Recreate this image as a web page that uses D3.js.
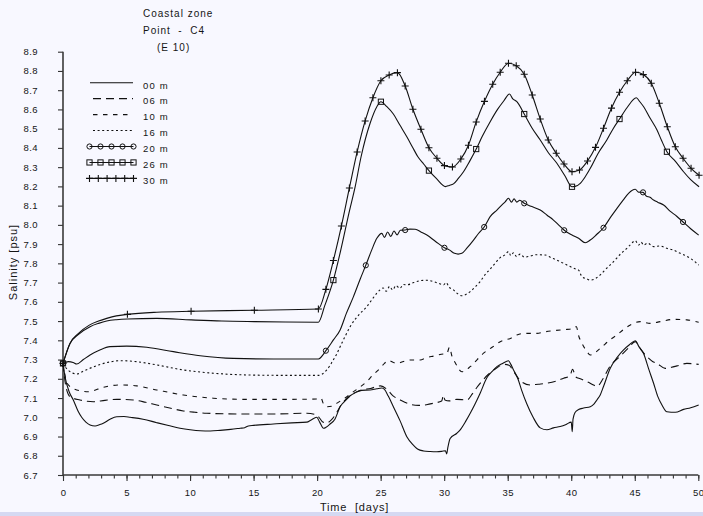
<!DOCTYPE html>
<html><head><meta charset="utf-8">
<script src="https://cdn.jsdelivr.net/npm/d3@7"></script>
<style>
html,body{margin:0;padding:0;background:#f8f8ff;}
svg{display:block;}
text{font-family:"Liberation Sans",Arial,sans-serif;fill:#151515;}
</style></head><body>
<svg id="chart" width="703" height="516"></svg>
<script>
// Salinity time series at point C4 (coastal zone), one array per depth: [day, psu]
const s00 = [[0,7.28],[0.16,7.21],[0.5,7.13],[0.81,7.09],[1.2,7.03],[1.47,7.0],[1.8,6.975],[2.13,6.96],[2.52,6.955],[2.9,6.962],[3.17,6.969],[3.7,6.99],[4.23,7.003],[4.8,7.004],[5.28,7.0],[6.3,6.99],[7.38,6.972],[8.3,6.957],[9.21,6.943],[10.0,6.935],[10.79,6.93],[11.6,6.929],[12.36,6.932],[13.2,6.937],[13.94,6.943],[14.3,6.946],[14.59,6.955],[15.0,6.958],[16.56,6.965],[18.0,6.971],[19.19,6.975],[19.5,6.985],[19.97,7.0],[20.2,6.975],[20.5,6.943],[20.7,6.948],[21.02,6.965],[21.4,6.99],[21.81,7.055],[22.2,7.085],[22.6,7.112],[23.0,7.128],[23.5,7.14],[24.17,7.142],[24.7,7.148],[25.09,7.152],[25.3,7.145],[25.6,7.11],[26.0,7.055],[26.54,6.98],[27.06,6.899],[27.58,6.855],[27.9,6.835],[28.37,6.825],[28.9,6.822],[29.43,6.821],[29.8,6.823],[30.1,6.826],[30.2,6.81],[30.28,6.84],[30.47,6.89],[31.0,6.917],[31.26,6.935],[31.7,6.98],[32.05,7.021],[32.4,7.065],[32.83,7.125],[33.36,7.205],[33.8,7.24],[34.15,7.263],[34.6,7.28],[35.06,7.294],[35.25,7.275],[35.46,7.246],[35.8,7.2],[36.1,7.14],[36.5,7.07],[37.0,7.0],[37.56,6.945],[38.09,6.935],[38.6,6.945],[39.13,6.952],[39.6,6.963],[40.0,6.975],[40.08,6.925],[40.14,6.99],[40.3,7.025],[40.58,7.04],[40.97,7.048],[41.5,7.055],[41.8,7.07],[42.02,7.09],[42.28,7.116],[42.54,7.16],[43.07,7.255],[43.6,7.31],[44.12,7.35],[44.6,7.378],[45.04,7.398],[45.3,7.37],[45.7,7.33],[46.1,7.25],[46.48,7.177],[46.8,7.11],[47.14,7.064],[47.53,7.029],[48.19,7.026],[48.84,7.041],[49.4,7.05],[50.03,7.064]];

const s06 = [[0,7.28],[0.2,7.17],[0.55,7.107],[1.34,7.09],[2.39,7.081],[3.3,7.088],[4.23,7.093],[5.54,7.09],[6.5,7.078],[7.38,7.064],[8.4,7.048],[9.47,7.033],[10.4,7.026],[11.31,7.021],[13.94,7.017],[16.56,7.017],[19.19,7.021],[19.97,7.012],[20.2,6.995],[20.45,6.975],[20.7,6.97],[21.1,6.985],[21.5,7.02],[21.9,7.065],[22.6,7.112],[23.4,7.14],[24.2,7.15],[25.0,7.163],[25.5,7.145],[26.0,7.11],[26.54,7.09],[27.2,7.07],[27.98,7.062],[28.6,7.065],[29.16,7.073],[29.8,7.085],[29.95,7.115],[30.05,7.09],[30.4,7.085],[31.0,7.093],[31.79,7.09],[32.2,7.12],[32.57,7.155],[33.0,7.19],[33.5,7.225],[34.1,7.255],[34.7,7.275],[35.1,7.27],[35.5,7.235],[36.0,7.19],[36.77,7.168],[37.4,7.172],[38.09,7.177],[38.8,7.188],[39.4,7.203],[39.9,7.215],[40.1,7.25],[40.35,7.21],[40.71,7.2],[41.24,7.185],[41.76,7.168],[42.02,7.16],[42.5,7.2],[43.0,7.26],[43.86,7.318],[44.5,7.36],[45.04,7.393],[45.5,7.35],[45.96,7.315],[46.4,7.29],[46.75,7.28],[47.4,7.254],[47.9,7.26],[48.32,7.267],[49.1,7.28],[50.03,7.275]];

const s10 = [[0,7.28],[0.15,7.22],[0.42,7.168],[1.08,7.142],[2.0,7.133],[3.17,7.156],[4.49,7.168],[5.8,7.163],[7.38,7.142],[9.47,7.116],[11.83,7.099],[14.46,7.093],[17.09,7.093],[20.1,7.095],[20.3,7.1],[20.5,7.07],[20.8,7.055],[21.2,7.058],[21.6,7.075],[22.2,7.1],[22.8,7.13],[23.25,7.151],[23.9,7.185],[24.4,7.22],[24.96,7.255],[25.3,7.28],[25.6,7.295],[26.0,7.285],[26.3,7.28],[26.8,7.29],[27.32,7.298],[28.1,7.298],[28.6,7.31],[29.16,7.318],[29.95,7.329],[30.2,7.33],[30.42,7.364],[30.6,7.32],[30.9,7.28],[31.39,7.237],[32.05,7.263],[32.6,7.3],[33.1,7.333],[33.8,7.365],[34.41,7.393],[35.2,7.41],[35.72,7.428],[36.24,7.436],[37.3,7.436],[38.0,7.445],[38.6,7.45],[39.66,7.457],[40.2,7.46],[40.4,7.471],[40.6,7.42],[40.84,7.385],[41.2,7.345],[41.5,7.324],[42.28,7.358],[43.0,7.4],[43.6,7.428],[44.1,7.455],[44.65,7.48],[45.43,7.497],[46.22,7.488],[47.0,7.497],[48.06,7.509],[49.1,7.506],[50.03,7.494]];

const s16 = [[0,7.28],[0.4,7.245],[1.08,7.225],[1.6,7.24],[2.13,7.255],[2.8,7.272],[3.44,7.284],[4.49,7.294],[5.8,7.289],[7.38,7.272],[9.47,7.246],[11.83,7.229],[14.46,7.22],[17.09,7.218],[20.1,7.218],[20.76,7.246],[21.2,7.29],[21.55,7.33],[21.81,7.367],[22.2,7.42],[22.6,7.471],[23.0,7.51],[23.39,7.54],[23.91,7.575],[24.3,7.61],[24.7,7.645],[24.96,7.662],[25.2,7.672],[25.45,7.655],[25.7,7.68],[25.95,7.662],[26.2,7.685],[26.5,7.67],[26.8,7.69],[27.06,7.688],[27.6,7.7],[28.11,7.71],[28.6,7.712],[29.16,7.705],[29.6,7.695],[29.95,7.688],[30.15,7.7],[30.4,7.675],[30.73,7.662],[31.0,7.645],[31.39,7.632],[31.7,7.638],[32.05,7.653],[32.4,7.675],[32.83,7.705],[33.2,7.74],[33.62,7.77],[34.0,7.8],[34.41,7.83],[34.8,7.845],[35.06,7.861],[35.25,7.84],[35.46,7.855],[35.7,7.835],[35.98,7.848],[36.3,7.832],[36.77,7.838],[37.3,7.845],[37.95,7.843],[38.4,7.83],[38.87,7.817],[39.4,7.8],[39.92,7.783],[40.3,7.772],[40.58,7.765],[40.84,7.731],[41.2,7.72],[41.5,7.713],[42.0,7.725],[42.28,7.74],[42.8,7.775],[43.33,7.809],[43.9,7.85],[44.38,7.878],[44.7,7.9],[45.04,7.918],[45.3,7.895],[45.5,7.91],[45.7,7.895],[46.0,7.905],[46.48,7.887],[47.0,7.89],[47.53,7.878],[48.0,7.87],[48.58,7.852],[49.0,7.84],[49.37,7.826],[49.7,7.81],[50.03,7.791]];

const s20 = [[0,7.28],[0.42,7.289],[0.8,7.285],[1.08,7.277],[1.6,7.3],[2.13,7.324],[2.9,7.35],[3.7,7.367],[5.01,7.37],[6.59,7.364],[8.69,7.341],[10.79,7.32],[13.41,7.306],[16.56,7.303],[20.1,7.303],[20.69,7.346],[21.28,7.402],[21.81,7.454],[22.3,7.54],[22.86,7.627],[23.4,7.72],[23.83,7.79],[24.3,7.87],[24.7,7.93],[25.09,7.956],[25.3,7.935],[25.55,7.963],[25.8,7.94],[26.05,7.968],[26.3,7.948],[26.55,7.972],[26.93,7.973],[27.3,7.978],[27.72,7.977],[28.2,7.962],[28.64,7.947],[29.3,7.915],[30.02,7.881],[30.4,7.87],[30.81,7.852],[31.1,7.848],[31.39,7.852],[31.8,7.88],[32.31,7.921],[32.7,7.955],[33.15,7.989],[33.62,8.043],[34.15,8.077],[34.41,8.095],[34.8,8.12],[35.06,8.138],[35.3,8.118],[35.5,8.135],[35.72,8.118],[35.95,8.128],[36.3,8.112],[36.9,8.095],[37.56,8.077],[38.1,8.05],[38.6,8.025],[39.0,8.0],[39.45,7.972],[40.06,7.947],[40.58,7.93],[41.1,7.907],[41.5,7.921],[42.0,7.95],[42.54,7.985],[43.1,8.04],[43.6,8.086],[44.1,8.13],[44.51,8.164],[45.04,8.185],[45.3,8.17],[45.65,8.169],[45.9,8.15],[46.2,8.143],[46.48,8.129],[46.8,8.118],[47.27,8.103],[47.8,8.07],[48.3,8.045],[48.8,8.015],[49.4,7.98],[50.03,7.947]];

const s26 = [[0,7.28],[0.55,7.384],[1.2,7.43],[2.13,7.471],[2.8,7.488],[3.44,7.5],[4.2,7.507],[5.07,7.511],[7.38,7.514],[10.08,7.506],[12.5,7.5],[15.06,7.497],[17.5,7.495],[20.1,7.494],[20.6,7.58],[21.28,7.713],[21.9,7.88],[22.5,8.06],[23.0,8.2],[23.46,8.354],[24.17,8.528],[24.7,8.614],[25.02,8.64],[25.49,8.614],[26.0,8.576],[26.5,8.52],[27.06,8.458],[27.5,8.405],[27.93,8.354],[28.4,8.315],[28.8,8.282],[29.4,8.24],[30.1,8.199],[30.4,8.205],[30.73,8.213],[31.1,8.24],[31.52,8.276],[32.0,8.33],[32.52,8.394],[33.0,8.46],[33.62,8.536],[34.2,8.6],[34.7,8.645],[35.14,8.68],[35.4,8.655],[35.72,8.64],[36.3,8.576],[36.9,8.505],[37.56,8.441],[38.2,8.375],[38.87,8.32],[39.5,8.255],[40.06,8.198],[40.3,8.2],[40.71,8.216],[41.1,8.25],[41.5,8.294],[42.1,8.37],[42.8,8.441],[43.3,8.5],[43.8,8.55],[44.4,8.61],[45.12,8.661],[45.4,8.64],[45.7,8.614],[46.2,8.555],[46.75,8.493],[47.1,8.44],[47.53,8.38],[48.2,8.33],[48.84,8.276],[49.4,8.235],[50.06,8.198]];

const s30 = [[0,7.28],[0.55,7.384],[1.2,7.435],[2.07,7.479],[2.8,7.5],[3.44,7.514],[4.2,7.527],[5.07,7.535],[7.38,7.546],[10.08,7.551],[15.06,7.556],[20.1,7.563],[20.69,7.665],[21.28,7.815],[21.91,7.994],[22.54,8.192],[23.15,8.379],[23.78,8.54],[24.39,8.661],[25.02,8.749],[25.67,8.779],[26.32,8.791],[26.93,8.722],[27.54,8.601],[28.17,8.497],[28.8,8.401],[29.43,8.346],[30.02,8.308],[30.65,8.301],[31.31,8.342],[31.91,8.414],[32.52,8.535],[33.17,8.642],[33.82,8.731],[34.41,8.793],[35.06,8.84],[35.67,8.827],[36.3,8.783],[36.93,8.675],[37.56,8.55],[38.19,8.441],[38.82,8.372],[39.43,8.316],[40.06,8.276],[40.65,8.285],[41.28,8.332],[41.91,8.403],[42.54,8.502],[43.17,8.607],[43.8,8.689],[44.41,8.749],[45.06,8.793],[45.67,8.781],[46.3,8.736],[46.93,8.632],[47.56,8.51],[48.19,8.406],[48.8,8.346],[49.43,8.294],[50.06,8.258]];

// Days at which symbols are plotted on the marked series
const marks20 = [0,20.69,23.83,26.93,30.02,33.15,36.3,39.45,42.54,45.65,48.8];
const marks26 = [0,21.28,25.02,28.8,32.52,36.3,40.06,43.8,47.53];
const marks30 = [0,5.07,10.08,15.06,20.1,20.69,21.28,21.91,22.54,23.15,23.78,24.39,25.02,25.67,26.32,26.93,27.54,28.17,28.8,29.43,30.02,30.65,31.31,31.91,32.52,33.17,33.82,34.41,35.06,35.67,36.3,36.93,37.56,38.19,38.82,39.43,40.06,40.65,41.28,41.91,42.54,43.17,43.8,44.41,45.06,45.67,46.3,46.93,47.56,48.19,48.8,49.43,50.06];

const depthLabels = ["00 m","06 m","10 m","16 m","20 m","26 m","30 m"];
const xTicks = [0,5,10,15,20,25,30,35,40,45,50];
const yTicks = [6.7,6.8,6.9,7.0,7.1,7.2,7.3,7.4,7.5,7.6,7.7,7.8,7.9,8.0,8.1,8.2,8.3,8.4,8.5,8.6,8.7,8.8,8.9];
const titleLines = ["Coastal zone","Point  -  C4","(E 10)"];

const series = [
  {label:depthLabels[0], data:s00, dash:null,  marks:null,    sym:null},
  {label:depthLabels[1], data:s06, dash:"8,5", marks:null,    sym:null},
  {label:depthLabels[2], data:s10, dash:"4.5,5.5", marks:null, sym:null},
  {label:depthLabels[3], data:s16, dash:"2,2.6", marks:null,  sym:null},
  {label:depthLabels[4], data:s20, dash:null,  marks:marks20, sym:"circle"},
  {label:depthLabels[5], data:s26, dash:null,  marks:marks26, sym:"square"},
  {label:depthLabels[6], data:s30, dash:null,  marks:marks30, sym:"plus"}
];

const W = 703, H = 516, BG = "#f8f8ff";
const svg = d3.select("#chart");
svg.append("rect").attr("width", W).attr("height", H).attr("fill", BG);
svg.append("rect").attr("x", 0).attr("y", 512).attr("width", W).attr("height", 4).attr("fill", "#d5d9f2");

const x = d3.scaleLinear().domain([0, 50]).range([63, 698.3]);
const y = d3.scaleLinear().domain([6.7, 8.9]).range([475, 51.7]);

// Axes
const yAxis = svg.append("g").attr("transform", "translate(63,0)")
  .call(d3.axisLeft(y).tickValues(yTicks).tickFormat(d3.format(".1f"))
    .tickSize(5).tickPadding(20).tickSizeOuter(0));
const xMinor = svg.append("g").attr("transform", "translate(0,475)")
  .call(d3.axisBottom(x).tickValues(d3.range(0, 51, 1)).tickFormat("").tickSize(3.5).tickSizeOuter(0));
const xAxis = svg.append("g").attr("transform", "translate(0,475)")
  .call(d3.axisBottom(x).tickValues(xTicks).tickFormat(d3.format("d"))
    .tickSize(6).tickPadding(8).tickSizeOuter(0));
[yAxis, xMinor, xAxis].forEach(g => {
  g.select(".domain").remove();
  g.selectAll(".tick line").attr("stroke", "#333").attr("stroke-width", 1.1);
  g.selectAll("text").attr("font-size", 9.5).attr("font-family", '"Liberation Sans", Arial, sans-serif')
    .attr("fill", "#151515").attr("letter-spacing", 0.4);
});
svg.append("line").attr("x1", 63).attr("x2", 63).attr("y1", y(8.9)).attr("y2", y(6.7))
  .attr("stroke", "#3a3a3a").attr("stroke-width", 1.6);
svg.append("line").attr("x1", 63).attr("x2", x(50)).attr("y1", 475).attr("y2", 475)
  .attr("stroke", "#3a3a3a").attr("stroke-width", 1.4);

// Axis titles
svg.append("text").attr("x", 320).attr("y", 511).attr("font-size", 11).attr("letter-spacing", 0.8)
  .style("white-space", "pre").text("Time  [days]");
svg.append("text").attr("transform", "translate(17,262) rotate(-90)").attr("text-anchor", "middle")
  .attr("font-size", 11).attr("letter-spacing", 1).text("Salinity [psu]");

// Title block
const titleX = [143, 143, 157], titleY = [16.7, 33.5, 50.5];
titleLines.forEach((t, i) => {
  svg.append("text").attr("x", titleX[i]).attr("y", titleY[i]).attr("font-size", 10)
    .attr("letter-spacing", 1).style("white-space", "pre").text(t);
});

// Series lines
const line = d3.line().x(d => x(d[0])).y(d => y(d[1])).curve(d3.curveMonotoneX);
const plot = svg.append("g");
series.forEach(s => {
  plot.append("path").datum(s.data).attr("d", line).attr("fill", "none")
    .attr("stroke", "#111").attr("stroke-width", 1.1)
    .attr("stroke-dasharray", s.dash).attr("stroke-linejoin", "round");
});

// Symbol drawing
function drawSym(g, kind, cx, cy) {
  if (kind === "circle") {
    g.append("circle").attr("cx", cx).attr("cy", cy).attr("r", 2.6)
      .attr("fill", "none").attr("stroke", "#111").attr("stroke-width", 1);
  } else if (kind === "square") {
    g.append("rect").attr("x", cx - 2.6).attr("y", cy - 2.6).attr("width", 5.2).attr("height", 5.2)
      .attr("fill", "none").attr("stroke", "#111").attr("stroke-width", 1);
  } else if (kind === "plus") {
    g.append("path").attr("d", `M${cx - 3.5},${cy}H${cx + 3.5}M${cx},${cy - 3.5}V${cy + 3.5}`)
      .attr("stroke", "#111").attr("stroke-width", 1.1);
  }
}
const bis = d3.bisector(d => d[0]).left;
function valueAt(data, t) {
  const i = bis(data, t);
  if (i <= 0) return data[0][1];
  if (i >= data.length) return data[data.length - 1][1];
  const a = data[i - 1], b = data[i];
  if (b[0] === t) return b[1];
  return a[1] + (b[1] - a[1]) * (t - a[0]) / (b[0] - a[0]);
}
series.forEach(s => {
  if (!s.marks) return;
  const g = plot.append("g");
  s.marks.forEach(t => drawSym(g, s.sym, x(t), y(valueAt(s.data, t))));
});

// Legend
const leg = svg.append("g");
series.forEach((s, i) => {
  const by = 88.5 + i * 15.95, ly = by - 5.8;
  if (s.sym) {
    leg.append("line").attr("x1", 89.5).attr("x2", 133.5).attr("y1", ly).attr("y2", ly)
      .attr("stroke", "#111").attr("stroke-width", 1.1);
    const n = s.sym === "plus" ? 6 : 5;
    const step = 44 / (n - 1);
    for (let k = 0; k < n; k++) drawSym(leg, s.sym, 89.5 + k * step, ly);
  } else {
    leg.append("line").attr("x1", s.dash ? 93 : 90).attr("x2", 133).attr("y1", ly).attr("y2", ly)
      .attr("stroke", "#111").attr("stroke-width", 1.1).attr("stroke-dasharray", s.dash);
  }
  leg.append("text").attr("x", 143).attr("y", by).attr("font-size", 9.5)
    .attr("letter-spacing", 1.2).style("white-space", "pre").text(s.label);
});
</script>
</body></html>
